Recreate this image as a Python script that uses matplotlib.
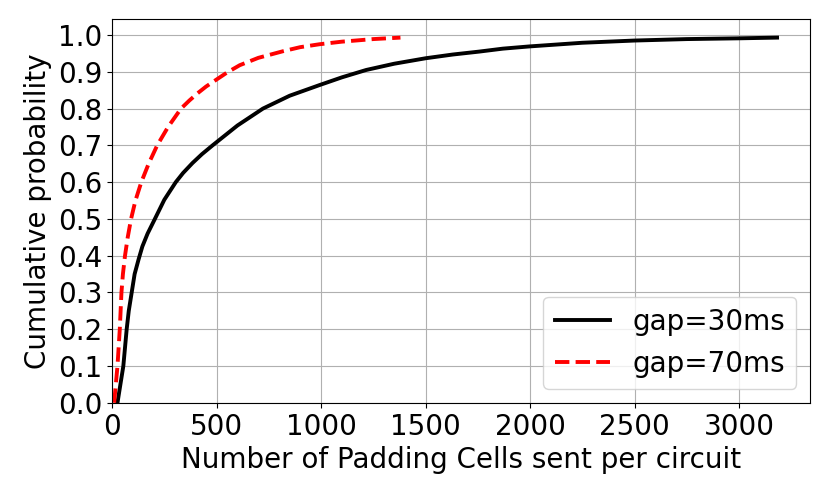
import matplotlib

matplotlib.use("Agg")
import matplotlib.pyplot as plt

# CDF points (cells, cumulative probability)
gap30_x = [26, 40, 54, 70, 80, 94, 108, 127, 145, 170, 205, 250, 305, 340, 385, 430,
           481, 600, 722, 850, 993, 1100, 1216, 1350, 1502, 1630, 1757, 1870, 1996,
           2250, 2498, 2750, 2991, 3182]
gap30_y = [0.0, 0.05, 0.1, 0.2, 0.25, 0.3, 0.35, 0.39, 0.425, 0.46, 0.5, 0.552, 0.6,
           0.625, 0.652, 0.676, 0.7, 0.754, 0.80, 0.835, 0.864, 0.885, 0.905, 0.922,
           0.937, 0.947, 0.955, 0.963, 0.969, 0.979, 0.985, 0.989, 0.991, 0.993]

gap70_x = [10, 18, 26, 37, 45, 52, 62, 75, 91, 112, 140, 175, 216, 268, 330, 370, 410,
           450, 492, 550, 611, 700, 818, 900, 993, 1100, 1250, 1380]
gap70_y = [0.0, 0.05, 0.1, 0.2, 0.3, 0.35, 0.4, 0.45, 0.5, 0.55, 0.6, 0.65, 0.7, 0.75,
           0.8, 0.822, 0.842, 0.86, 0.876, 0.898, 0.918, 0.938, 0.956, 0.967, 0.975,
           0.982, 0.989, 0.993]

plt.rcParams.update({"font.size": 20})

fig, ax = plt.subplots(figsize=(8.3, 4.93), dpi=100)
ax.plot(gap30_x, gap30_y, color="black", lw=2.8, label="gap=30ms")
ax.plot(gap70_x, gap70_y, color="red", lw=2.8, ls="--", label="gap=70ms")
ax.set_xlim(0, 3340)
ax.set_ylim(0, 1.043)
ax.set_yticks([i / 10 for i in range(11)])
ax.grid(True)
ax.set_xlabel("Number of Padding Cells sent per circuit")
ax.set_ylabel("Cumulative probability")
ax.legend(loc="lower right")
fig.subplots_adjust(left=0.135, right=0.976, top=0.961, bottom=0.183)
fig.savefig("out.png")
